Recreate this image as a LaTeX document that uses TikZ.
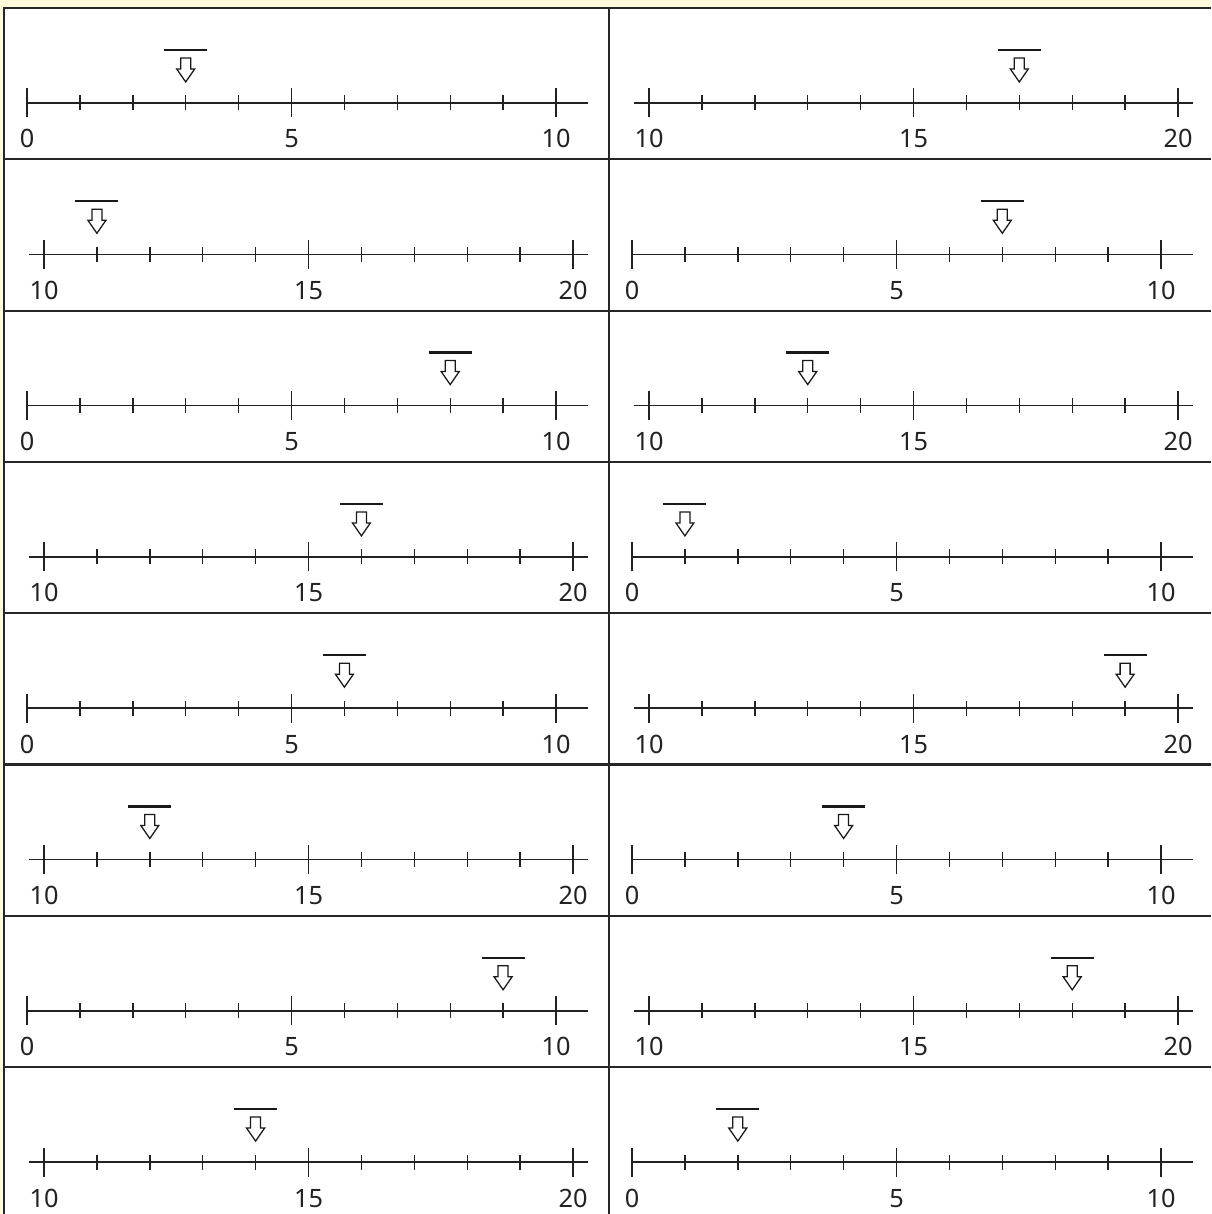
\documentclass[tikz,border=0pt]{standalone}
\usepackage{fontspec}
\setmainfont{Noto Sans}
\usepackage{tikz}
\usetikzlibrary{calc}

\definecolor{cream}{HTML}{FFF9DC}
\definecolor{ink}{HTML}{222222}

\begin{document}
\begin{tikzpicture}[
  x=0.025cm, y=0.025cm,
  font=\fontsize{18}{20}\selectfont,
  lbl/.style  = {anchor=base, inner sep=0pt, text=ink},
  ax/.style   = {line width=1.1pt, ink},
  tck/.style  = {line width=1.0pt, ink},
  grid/.style = {line width=1.5pt, black!85},
  bar/.style  = {line width=1.7pt, black!90},
  arr/.style  = {line width=0.9pt, black!90, fill=white, line join=miter},
]

\def\W{1211} \def\H{1214}
\def\yTop{1206}   % top rule of the table
\def\xL{4}        % left rule
\def\xM{609}      % middle rule
\def\rowH{151.3}
\def\du{52.9}     % one unit on a number line

\useasboundingbox (0,0) rectangle (\W,\H);
\fill[cream] (0,0) rectangle (\W,\H);
\fill[white] (\xL,0) rectangle (\W,\yTop);

% table rules
\draw[grid] (\xL,0) -- (\xL,\yTop) -- (\W,\yTop);
\draw[grid] (\xM,0) -- (\xM,\yTop);
\foreach \r in {1,...,7}
  \draw[grid] (\xL,\yTop-\r*\rowH) -- (\W,\yTop-\r*\rowH);

% number lines: row / left value / right value
\foreach \r/\va/\vb in {1/3/17, 2/11/7, 3/8/13, 4/16/1,
                        5/6/19, 6/12/4, 7/9/18, 8/14/2}{
  \pgfmathsetmacro\yA{\yTop-(\r-1)*\rowH-95}
  \pgfmathtruncatemacro\sA{mod(\r+1,2)*10}
  \pgfmathtruncatemacro\sB{10-\sA}
  \foreach \cx/\s/\v in {\xL/\sA/\va, \xM/\sB/\vb}{
    \pgfmathsetmacro\xO{\cx+23+\s*1.7}
    \pgfmathsetmacro\xS{\cx+23+\s/5}
    \draw[ax] (\xS,\yA) -- (\cx+584,\yA);
    \foreach \k in {1,2,3,4,6,7,8,9}
      \draw[tck] (\xO+\k*\du,\yA-7.5) -- (\xO+\k*\du,\yA+7.5);
    \foreach \k in {0,5,10}{
      \draw[tck] (\xO+\k*\du,\yA-14.5) -- (\xO+\k*\du,\yA+14.5);
      \pgfmathtruncatemacro\n{\s+\k}
      \node[lbl] at (\xO+\k*\du,\yA-45) {\n};
    }
    % marker above the value
    \pgfmathsetmacro\xa{\xO+(\v-\s)*\du}
    \draw[bar] (\xa-21.5,\yA+53) -- (\xa+21.5,\yA+53);
    \draw[arr] (\xa-5,\yA+45) -- (\xa+5,\yA+45) -- (\xa+5,\yA+34)
      -- (\xa+9,\yA+34) -- (\xa,\yA+21) -- (\xa-9,\yA+34)
      -- (\xa-5,\yA+34) -- cycle;
  }
}

\end{tikzpicture}
\end{document}
